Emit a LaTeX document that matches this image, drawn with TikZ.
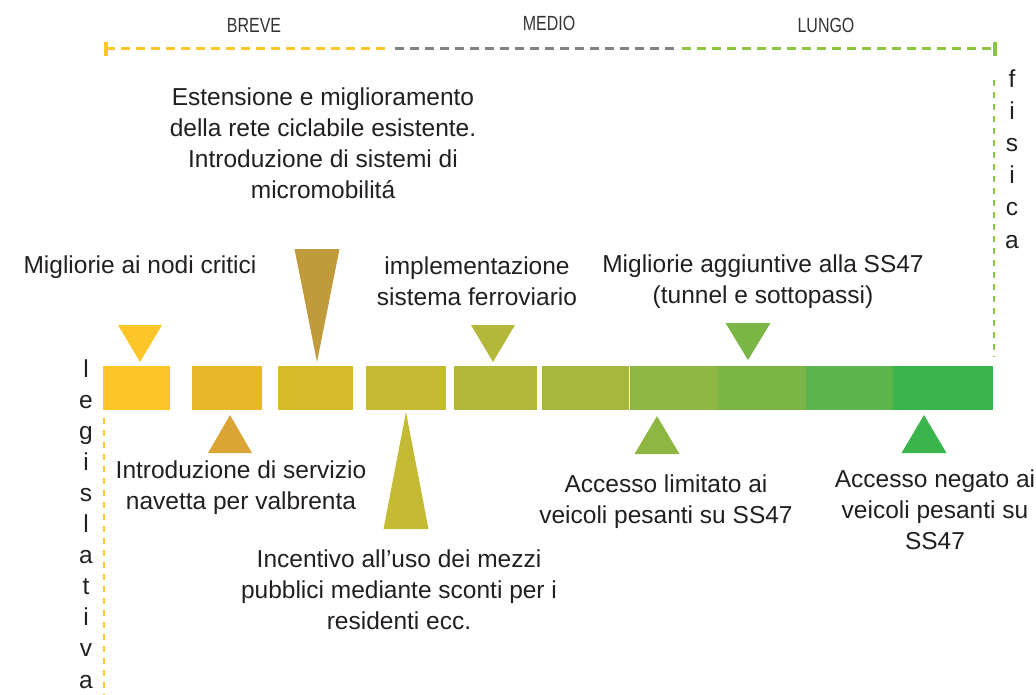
\documentclass[tikz,border=0pt]{standalone}
\usepackage{fontspec}
\setmainfont{Liberation Sans}
\newfontfamily\condfont[FakeStretch=0.78]{Liberation Sans}
\usepackage{tikz}
\usetikzlibrary{positioning, calc}
\definecolor{ink}{HTML}{231F20}
\definecolor{termc}{HTML}{333333}
\definecolor{yelc}{HTML}{FFC629}
\definecolor{greyc}{HTML}{808285}
\definecolor{lgrc}{HTML}{8CC63F}
\definecolor{bk1}{HTML}{FFC629}
\definecolor{bk2}{HTML}{E8B82A}
\definecolor{bk3}{HTML}{D6BA2C}
\definecolor{bk4}{HTML}{C5BA34}
\definecolor{bk5}{HTML}{B3B83A}
\definecolor{bk6}{HTML}{A5B73D}
\definecolor{bk7}{HTML}{8DB742}
\definecolor{bk8}{HTML}{7AB546}
\definecolor{bk9}{HTML}{5DB44A}
\definecolor{bk10}{HTML}{3AB44C}
\definecolor{brownc}{HTML}{BF9B3C}
\definecolor{orangec}{HTML}{DBA535}
\newcommand{\downmark}[5]{%
  \coordinate (#1) at #2;
  \fill[#5] (#1) -- ++(-#3,-#4) -- ++({2*#3},0) -- cycle;
}
\newcommand{\upmark}[5]{%
  \coordinate (#1) at #2;
  \fill[#5] (#1) -- ++(-#3,#4) -- ++({2*#3},0) -- cycle;
}

\begin{document}
\begin{tikzpicture}[x=1pt, y=-1pt, font=\fontsize{24.5}{31}\selectfont,
    block/.style={rectangle, inner sep=0pt, minimum height=44pt},
    lbl/.style={align=center, text=ink, inner sep=0pt},
    vletter/.style={anchor=base, text=ink, inner sep=0pt},
    term/.style={font=\condfont\fontsize{20.5}{24}\selectfont, text=termc,
                 anchor=base, inner sep=0pt},
    guide/.style={line width=3pt, dash pattern=on 9pt off 6pt},
    vguide/.style={line width=2.5pt, dash pattern=on 6pt off 6pt},
    tick/.style={line width=3.5pt}]
  \useasboundingbox (0,0) rectangle (1036,695);

  % horizon
  \node[term] (breve) at (254,33) {BREVE};
  \node[term] (medio) at (549,31) {MEDIO};
  \node[term] (lungo) at (826,33) {LUNGO};
  \coordinate (tl-a) at (106,49);
  \coordinate (tl-b) at (388,49);
  \coordinate (tl-c) at (395,49);
  \coordinate (tl-d) at (676,49);
  \coordinate (tl-e) at (682,49);
  \coordinate (tl-f) at (995,49);
  \draw[guide, yelc] (tl-a) -- (tl-b);
  \draw[guide, greyc] (tl-c) -- (tl-d);
  \draw[guide, lgrc] (tl-e) -- (tl-f);
  \draw[tick, yelc] ($(tl-a)+(0,-7)$) -- ($(tl-a)+(0,7)$);
  \draw[tick, lgrc] ($(tl-f)+(0,-7)$) -- ($(tl-f)+(0,7)$);

  % blocks
  \foreach \n/\xa/\xb in {1/103/170, 2/192/262, 3/278/353, 4/366/446, 5/454/537,
                          6/542/628.6, 7/630/718, 8/718/806, 9/806/893, 10/893/993}
    \node[block, fill=bk\n, minimum width={(\xb-\xa)*1pt}] (b\n) at ({(\xa+\xb)/2},388) {};

  % markers
  \downmark{m1}{(140,362)}{22}{37}{bk1}
  \downmark{m2}{(317,362)}{22.5}{113}{brownc}
  \downmark{m3}{(493,362)}{22}{37}{bk5}
  \downmark{m4}{(748,360)}{22.5}{37}{bk8}
  \upmark{m5}{(230,415)}{22}{38}{orangec}
  \upmark{m6}{(406,412)}{22.5}{117}{bk4}
  \upmark{m7}{(657,416)}{22.5}{38}{bk7}
  \upmark{m8}{(924,415)}{22.5}{38}{bk10}

  % labels
  \node[lbl] (t-cicl) at (323,143.5) {Estensione e miglioramento\\della rete ciclabile esistente.\\Introduzione di sistemi di\\micromobilitá};
  \node[lbl, anchor=base] (t-nodi) at (140,273) {Migliorie ai nodi critici};
  \node[lbl] (t-ferr) at (477,281.5) {implementazione\\sistema ferroviario};
  \node[lbl] (t-ss47) at (763,281.5) {Migliorie aggiuntive alla SS47\\(tunnel e sottopassi)};
  \node[lbl] (t-nav) at (241,488) {Introduzione di servizio\\navetta per valbrenta};
  \node[lbl] (t-inc) at (399,589.5) {Incentivo all’uso dei mezzi\\pubblici mediante sconti per i\\residenti ecc.};
  \node[lbl] (t-lim) at (666,502) {Accesso limitato ai\\veicoli pesanti su SS47};
  \node[lbl] (t-neg) at (935,510) {Accesso negato ai\\veicoli pesanti su\\SS47};

  % side guides
  \foreach \c [count=\i] in {l,e,g,i,s,l,a,t,i,v,a}
    \node[vletter] (leg\i) at (86,{377+31.1*(\i-1)}) {\c};
  \foreach \c [count=\i] in {f,i,s,i,c,a}
    \node[vletter] (fis\i) at (1012,{88+32*(\i-1)}) {\c};
  \coordinate (leg-top) at (104,418);
  \coordinate (leg-bot) at (104,695);
  \coordinate (fis-top) at (994,80);
  \coordinate (fis-bot) at (994,357);
  \draw[vguide, yelc] (leg-top) -- (leg-bot);
  \draw[vguide, lgrc] (fis-top) -- (fis-bot);
\end{tikzpicture}
\end{document}
